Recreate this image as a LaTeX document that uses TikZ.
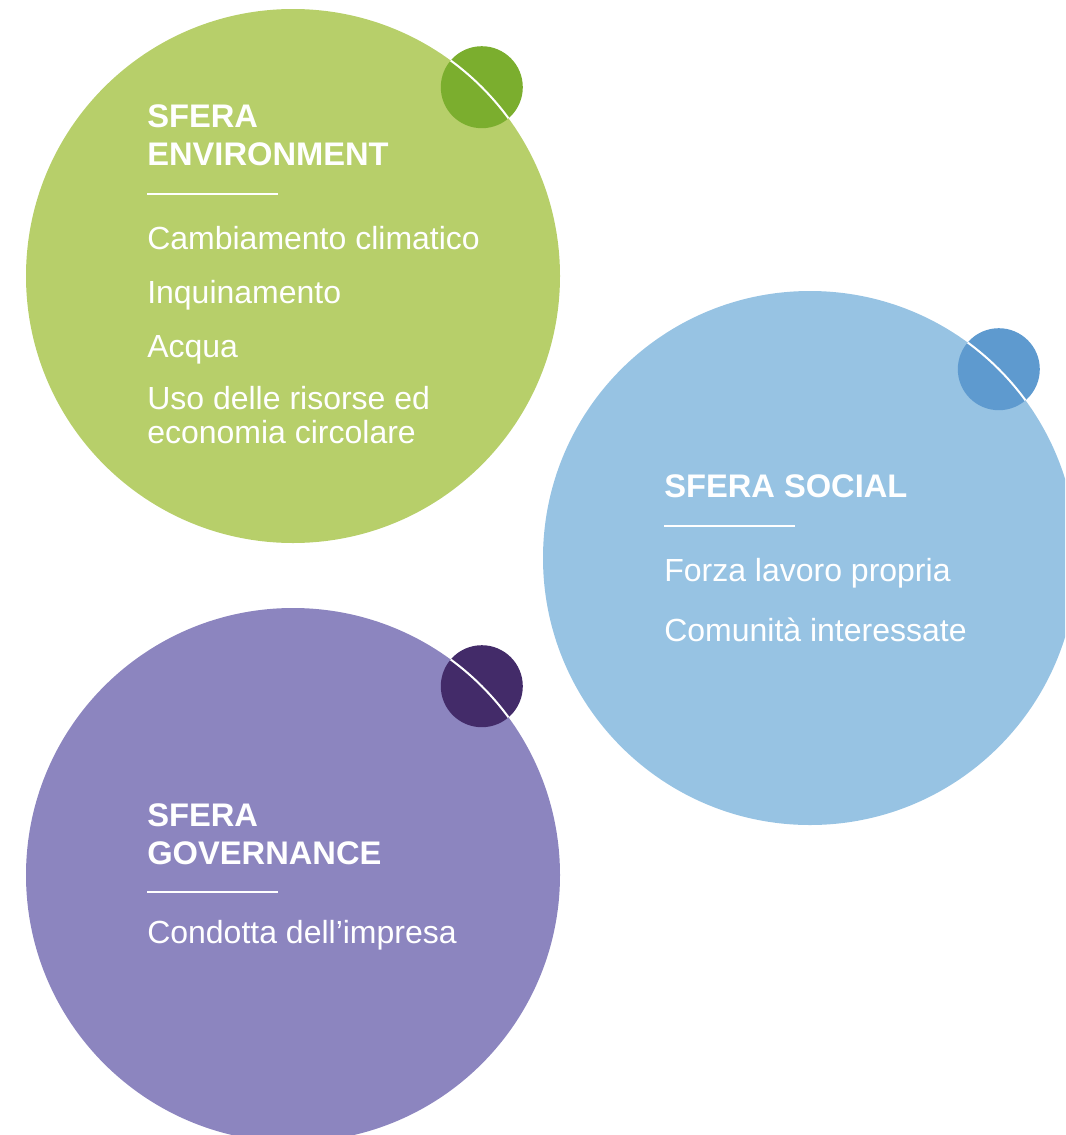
\documentclass[tikz,border=0pt]{standalone}
\usepackage{fontspec}
\setmainfont{Liberation Sans}
\definecolor{envlight}{HTML}{B7CF6A}
\definecolor{envdark}{HTML}{7BAE2E}
\definecolor{soclight}{HTML}{97C3E3}
\definecolor{socdark}{HTML}{5E9ACF}
\definecolor{govlight}{HTML}{8C85BF}
\definecolor{govdark}{HTML}{432B69}
\begin{document}
\begin{tikzpicture}[x=0.75pt,y=-0.75pt,
  sphere/.style={circle,minimum size=400.5pt,inner sep=0pt,outer sep=0pt},
  dot/.style={circle,minimum size=61.5pt,inner sep=0pt,outer sep=0pt},
  title/.style={anchor=base west,inner sep=0pt,text=white,align=left,
    font=\bfseries\fontsize{24.5}{28.5}\selectfont},
  item/.style={anchor=base west,inner sep=0pt,text=white,align=left,
    font=\fontsize{24}{25.5}\selectfont},
  rule/.style={white,line width=1.2pt}]
   \newdimen\Rbig
   \Rbig=200.25pt
   \clip (0,0) rectangle (1065,1135);
   % spheres with their dots
   \foreach \s/\x/\y in
     {env/293/276,
      soc/810/558,
      gov/293/875}
   {
     \node[sphere,fill=\s light] (\s) at (\x,\y) {};
     \node[dot,fill=\s dark] (\s dot) at (\s.45) {};
     \begin{scope}
       \clip (\s dot.center) circle (30.75pt);
       \draw[white,line width=1.5pt] (\s.center) circle (\Rbig);
     \end{scope}
   }
   % environment (base = last line)
   \node[title] (envtitle) at (147,165) {SFERA\\ENVIRONMENT};
   \draw[rule] (147,194) -- (278,194);
   \node[item] (env1) at (147,249) {Cambiamento climatico};
   \node[item] (env2) at (147,303) {Inquinamento};
   \node[item] (env3) at (147,357) {Acqua};
   \node[item] (env4) at (147,443) {Uso delle risorse ed\\economia circolare};
   % social
   \node[title] (soctitle) at (664,497) {SFERA SOCIAL};
   \draw[rule] (664,526) -- (795,526);
   \node[item] (soc1) at (664,581) {Forza lavoro propria};
   \node[item] (soc2) at (664,641) {Comunità interessate};
   % governance
   \node[title] (govtitle) at (147,864) {SFERA\\GOVERNANCE};
   \draw[rule] (147,892) -- (278,892);
   \node[item] (gov1) at (147,943) {Condotta dell’impresa};
\end{tikzpicture}
\end{document}
